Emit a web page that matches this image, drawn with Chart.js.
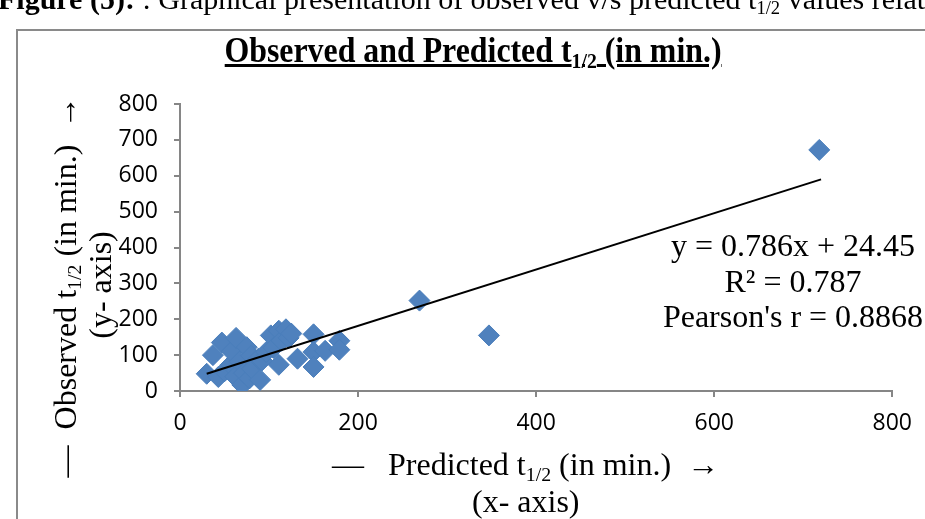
<!DOCTYPE html>
<html>
<head>
<meta charset="utf-8">
<script src="https://cdn.jsdelivr.net/npm/chart.js@4.4.1/dist/chart.umd.min.js"></script>
<style>
  html, body { margin:0; padding:0; background:#fff; }
  body { width:925px; height:519px; position:relative; overflow:hidden; font-family:"Liberation Serif","Times New Roman",serif; color:#000; }
  #frame { position:absolute; left:16px; top:29px; width:1000px; height:600px; border:2px solid #8a8a8a; box-sizing:border-box; }
  #chartWrap { position:absolute; left:0; top:0; width:925px; height:519px; }
  .abs { position:absolute; white-space:nowrap; }
  sub { font-size:62%; vertical-align:-0.28em; line-height:0; }
  #header { left:-2px; top:-18px; font-size:30px; }
  #title { left:473px; top:31px; font-size:35px; font-weight:bold; text-decoration:underline; transform:translateX(-50%) scaleX(0.91); transform-origin:center; }
  #xtitle { left:332px; top:446px; font-size:32px; }
  #xtitle2 { left:472px; top:483px; font-size:32px; }
  #ytitle { left:65px; top:287px; font-size:32px; transform:translate(-50%,-50%) rotate(-90deg); }
  #ytitle2 { left:100px; top:285px; font-size:32px; transform:translate(-50%,-50%) rotate(-90deg); }
  #eq { left:793px; top:228px; font-size:32px; text-align:center; line-height:35.5px; transform:translateX(-50%); }
</style>
</head>
<body>
<div id="frame"></div>
<div id="chartWrap"><canvas id="c" width="925" height="519"></canvas></div>
<div class="abs" id="header"><b>Figure (5):</b> : Graphical presentation of observed v/s predicted t<sub>1/2</sub> values relative to</div>
<div class="abs" id="title">Observed and Predicted t<sub>1/2</sub> (in min.)</div>
<div class="abs" id="xtitle">—&nbsp;&nbsp; Predicted t<sub>1/2</sub> (in min.)&nbsp; →</div>
<div class="abs" id="xtitle2">(x- axis)</div>
<div class="abs" id="ytitle">—&nbsp; Observed t<sub>1/2</sub> (in min.)&nbsp; →</div>
<div class="abs" id="ytitle2">(y- axis)</div>
<div class="abs" id="eq">y = 0.786x + 24.45<br>R² = 0.787<br>Pearson's r = 0.8868</div>
<script>
// Predicted t1/2 (x) and observed t1/2 (y), in minutes
const predicted = [30, 37, 43, 47, 50, 57, 58, 62, 63, 67, 70, 72, 75, 78, 80, 81, 88, 90, 92, 97, 102, 105, 111, 111, 114, 119, 122, 125, 132, 150, 150, 150, 163, 179, 179, 269, 347, 718];
const observed  = [48, 100, 39, 135, 55, 73, 110, 40, 148, 82, 17, 50, 122, 35, 98, 62, 90, 31, 85, 109, 155, 120, 73, 168, 140, 172, 148, 160, 90, 158, 109, 67, 112, 140, 115, 252, 155, 672];
// Linear trendline endpoints
const trendX = [30, 720];
const trendY = [48, 590];
const xTicks = [0, 200, 400, 600, 800];
const yTicks = [0, 100, 200, 300, 400, 500, 600, 700, 800];

const pts = predicted.map((x, i) => ({ x, y: observed[i] }));
const trend = trendX.map((x, i) => ({ x, y: trendY[i] }));

const axisGray = '#868686';
const tickFont = { family: '"Open Sans", "Noto Sans", sans-serif', size: 23 };

new Chart(document.getElementById('c'), {
  type: 'scatter',
  data: {
    datasets: [
      {
        label: 'Observed vs Predicted',
        data: pts,
        pointStyle: 'rectRot',
        pointRadius: 10.5,
        pointHoverRadius: 10.5,
        backgroundColor: '#4F81BD',
        borderColor: '#4A7EBB',
        borderWidth: 1,
        order: 2
      },
      {
        type: 'line',
        label: 'Linear trend',
        data: trend,
        borderColor: '#000',
        borderWidth: 2,
        pointRadius: 0,
        fill: false,
        order: 1
      }
    ]
  },
  options: {
    responsive: false,
    animation: false,
    events: [],
    layout: { padding: { left: 100, right: 22, top: 104, bottom: 88 } },
    plugins: { legend: { display: false }, title: { display: false }, tooltip: { enabled: false } },
    scales: {
      x: {
        type: 'linear',
        min: 0, max: 800,
        afterBuildTicks: s => { s.ticks = xTicks.map(v => ({ value: v })); },
        afterFit: s => { s.height = 40; },
        ticks: { font: tickFont, color: '#000', padding: 13 },
        grid: { display: true, drawOnChartArea: false, drawTicks: true, tickLength: 6, color: axisGray, lineWidth: 2 },
        border: { display: true, color: axisGray, width: 2 }
      },
      y: {
        type: 'linear',
        min: 0, max: 800,
        afterBuildTicks: s => { s.ticks = yTicks.map(v => ({ value: v })); },
        afterFit: s => { s.width = 80; },
        ticks: { font: tickFont, color: '#000', padding: 16 },
        grid: { display: true, drawOnChartArea: false, drawTicks: true, tickLength: 6, color: axisGray, lineWidth: 2 },
        border: { display: true, color: axisGray, width: 2 }
      }
    }
  }
});
</script>
</body>
</html>
